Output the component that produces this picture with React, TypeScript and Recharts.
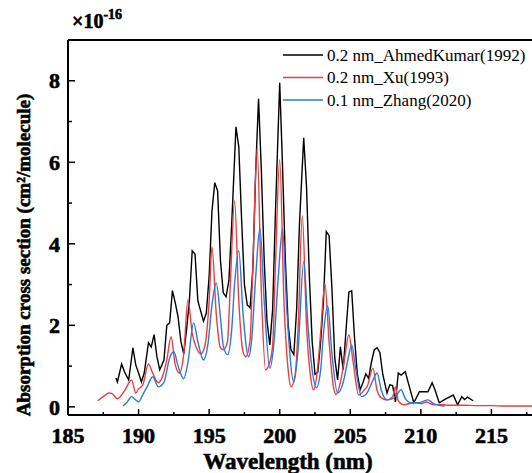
import React from "react";
import { LineChart, Line, XAxis, YAxis, ReferenceLine, Label } from "recharts";

// wavelengths (nm) and cross sections (x1e-16 cm^2/molecule)
const AK_WL = [
  188.4, 188.5, 188.8, 189.0, 189.3, 189.6, 189.8, 190.0, 190.2, 190.4, 190.7, 190.9, 191.1, 191.3,
  191.5, 191.8, 192.0, 192.2, 192.4, 192.6, 192.8, 193.0, 193.2, 193.4, 193.6, 193.8, 194.0, 194.2,
  194.4, 194.6, 194.8, 195.0, 195.2, 195.4, 195.6, 195.8, 196.0, 196.2, 196.4, 196.6, 196.9, 197.1,
  197.3, 197.5, 197.7, 197.9, 198.1, 198.3, 198.5, 198.7, 198.9, 199.1, 199.3, 199.5, 199.7, 200.0,
  200.2, 200.4, 200.6, 200.8, 201.0, 201.2, 201.4, 201.7, 201.9, 202.1, 202.3, 202.5, 202.7, 202.9,
  203.1, 203.3, 203.5, 203.7, 203.9, 204.1, 204.3, 204.5, 204.7, 204.9, 205.1, 205.3, 205.5, 205.7,
  205.9, 206.1, 206.3, 206.5, 206.7, 206.9, 207.1, 207.3, 207.6, 207.8, 208.0, 208.2, 208.4, 208.6,
  208.9, 209.1, 209.5, 209.9, 210.2, 210.5, 210.8, 211.0, 211.3, 211.8, 212.3, 212.6, 212.9, 213.1,
  213.3, 213.7,
];
const AK_VAL = [
  0.71, 0.61, 1.05, 0.86, 0.66, 1.45, 1.03, 0.83, 0.61, 0.83, 1.57, 1.47, 1.77, 1.23,
  0.91, 1.15, 2.0, 2.06, 2.85, 2.55, 2.2, 1.6, 1.3, 1.89, 2.6, 3.83, 3.75, 2.6,
  2.35, 2.1, 2.3, 3.2, 4.8, 5.5, 5.3, 3.6, 2.8, 2.7, 3.1, 4.5, 6.87, 6.38,
  4.6, 3.0, 2.5, 2.43, 3.4, 5.8, 7.56, 5.8, 3.6, 2.1, 1.52, 2.4, 4.8, 7.95,
  5.9, 3.6, 2.0, 1.4, 1.28, 2.4, 4.5, 6.6, 5.4, 3.2, 1.6, 0.8, 0.85, 1.6,
  2.6, 4.3, 4.2, 2.9, 1.2, 0.66, 1.47, 0.91, 1.89, 2.82, 2.85, 1.7, 0.8, 0.42,
  0.6, 0.81, 0.7, 1.1, 1.4, 1.45, 1.33, 0.8, 0.34, 0.54, 0.52, 0.12, 0.83, 0.78,
  0.86, 0.6, 0.1, 0.37, 0.37, 0.37, 0.59, 0.42, 0.1, 0.2, 0.29, 0.05, 0.25, 0.18,
  0.24, 0.15,
];

const XU_WL = [
  187.1, 187.5, 187.9, 188.1, 188.5, 189.0, 189.5, 189.8, 190.0, 190.3, 190.7, 191.0, 191.4, 191.8,
  192.0, 192.3, 192.6, 192.9, 193.2, 193.5, 193.8, 194.1, 194.4, 194.7, 195.0, 195.2, 195.5, 195.8,
  196.0, 196.3, 196.5, 196.8, 197.1, 197.4, 197.6, 197.9, 198.1, 198.4, 198.7, 199.0, 199.3, 199.5,
  199.7, 200.0, 200.3, 200.6, 200.8, 201.1, 201.3, 201.6, 201.9, 202.2, 202.4, 202.7, 202.9, 203.2,
  203.5, 203.8, 204.0, 204.3, 204.6, 204.9, 205.2, 205.6, 206.0, 206.2, 206.6, 206.9, 207.2, 207.6,
  208.0, 208.2, 208.4, 208.8, 209.5, 210.0, 210.4, 210.9, 211.5, 212.0, 213.0, 214.0, 215.0, 216.0,
  217.0, 218.0, 219.0, 220.0,
];
const XU_VAL = [
  0.15, 0.25, 0.34, 0.33, 0.2, 0.39, 0.66, 0.34, 0.44, 0.54, 1.05, 0.83, 0.59, 0.86,
  1.15, 1.72, 1.03, 0.83, 1.3, 2.63, 1.8, 1.45, 1.3, 1.5, 2.6, 3.93, 2.3, 1.45,
  1.4, 1.6, 3.0, 5.06, 2.6, 1.35, 1.23, 1.64, 3.5, 6.36, 2.8, 0.91, 1.1, 1.52,
  3.5, 6.06, 2.6, 0.9, 0.49, 0.8, 1.9, 4.69, 2.0, 0.7, 0.42, 1.0, 1.82, 3.02,
  1.6, 0.5, 0.3, 0.6, 1.2, 1.77, 1.1, 0.29, 0.42, 0.5, 0.95, 0.4, 0.22, 0.17,
  0.25, 0.49, 0.15, 0.05, 0.1, 0.08, 0.12, 0.05, 0.05, 0.04, 0.04, 0.03, 0.03, 0.02,
  0.02, 0.02, 0.02, 0.02,
];

const ZH_WL = [
  188.9, 189.2, 189.5, 189.7, 190.0, 190.3, 190.6, 191.0, 191.4, 191.8, 192.2, 192.5, 192.8, 193.2,
  193.5, 193.9, 194.2, 194.6, 194.9, 195.2, 195.5, 195.8, 196.0, 196.3, 196.6, 196.8, 197.1, 197.4,
  197.8, 198.0, 198.3, 198.6, 198.9, 199.3, 199.6, 199.9, 200.2, 200.5, 201.0, 201.3, 201.7, 202.0,
  202.3, 202.6, 202.9, 203.1, 203.4, 203.7, 204.1, 204.5, 204.8, 205.1, 205.4, 205.8, 206.2, 206.6,
  206.9, 207.2, 207.6, 208.0, 208.3, 208.6, 208.9, 209.3, 209.8, 210.2, 210.5, 210.9, 211.3, 211.7,
];
const ZH_VAL = [
  0.02, 0.12, 0.25, 0.2, 0.12, 0.3, 0.49, 0.74, 0.49, 0.6, 1.2, 1.35, 1.0, 0.69,
  1.1, 2.06, 1.6, 1.15, 1.5, 2.5, 3.04, 2.2, 1.5, 1.28, 1.9, 3.0, 3.83, 2.3,
  1.23, 1.6, 3.2, 4.39, 2.6, 0.95, 1.6, 3.2, 4.37, 2.4, 0.61, 1.4, 3.56, 2.0,
  0.9, 0.47, 0.9, 1.8, 2.48, 1.3, 0.34, 0.6, 1.1, 1.52, 0.9, 0.25, 0.35, 0.65,
  0.83, 0.4, 0.17, 0.2, 0.3, 0.42, 0.2, 0.1, 0.1, 0.14, 0.17, 0.08, 0.04, 0.02,
];

const X_TICKS = [185, 187.5, 190, 192.5, 195, 197.5, 200, 202.5, 205, 207.5, 210, 212.5, 215, 217.5];
const Y_TICKS = [0, 1, 2, 3, 4, 5, 6, 7, 8];

const SERIES = [
  { name: "0.2 nm_AhmedKumar(1992)", color: "#000000", wl: AK_WL, val: AK_VAL, type: "linear" },
  { name: "0.2 nm_Xu(1993)", color: "#f03c3c", wl: XU_WL, val: XU_VAL, type: "monotone" },
  { name: "0.1 nm_Zhang(2020)", color: "#2a78e0", wl: ZH_WL, val: ZH_VAL, type: "monotone" },
];

const FONT = "'Liberation Serif', 'Times New Roman', serif";
// the reference text is very heavy, so bold text gets a thin outline too
const BOLD = { fontFamily: FONT, fontWeight: 700, stroke: "#000", strokeWidth: 0.6 };
const PLOT_LEFT = 68;
const AXIS_Y = 415;

const toPoints = (wl: number[], val: number[]) => wl.map((w, i) => ({ wl: w, v: val[i] }));

const XTick = (props: any) => {
  const { x, payload } = props;
  const v = payload.value;
  const major = v % 5 === 0;
  return (
    <g>
      <line x1={x} x2={x} y1={AXIS_Y} y2={AXIS_Y - (major ? 6 : 3)} stroke="#000" strokeWidth={1.5} />
      {major && (
        <text x={x} y={AXIS_Y + 28} textAnchor="middle" fill="#000" style={{ ...BOLD, fontSize: 22 }}>
          {v}
        </text>
      )}
    </g>
  );
};

const YTick = (props: any) => {
  const { y, payload } = props;
  const v = payload.value;
  const major = v % 2 === 0;
  return (
    <g>
      <line x1={PLOT_LEFT} x2={PLOT_LEFT + (major ? 7 : 4)} y1={y} y2={y} stroke="#000" strokeWidth={1.5} />
      {major && (
        <text x={60} y={y} dy="0.35em" textAnchor="end" fill="#000" style={{ ...BOLD, fontSize: 22 }}>
          {v}
        </text>
      )}
    </g>
  );
};

export default function App() {
  return (
    <div style={{ position: "absolute", left: 0, top: 0, width: 532, height: 473, overflow: "hidden", background: "#fff" }}>
      <LineChart width={572} height={473} margin={{ top: 40, right: 10, bottom: 0, left: 0 }}>
        <XAxis
          type="number"
          dataKey="wl"
          domain={[185, 220]}
          ticks={X_TICKS}
          interval={0}
          allowDataOverflow
          height={58}
          tickSize={0}
          tickLine={false}
          axisLine={{ stroke: "#000", strokeWidth: 2 }}
          tick={<XTick />}
        >
          <Label
            content={() => (
              <text x={288} y={469} textAnchor="middle" fill="#000" style={{ ...BOLD, fontSize: 23 }}>
                Wavelength (nm)
              </text>
            )}
          />
        </XAxis>
        <YAxis
          type="number"
          domain={[-0.2, 9]}
          ticks={Y_TICKS}
          interval={0}
          allowDataOverflow
          width={68}
          tickSize={0}
          tickLine={false}
          axisLine={{ stroke: "#000", strokeWidth: 2 }}
          tick={<YTick />}
        >
          <Label
            content={() => (
              <text
                x={30}
                y={255}
                transform="rotate(-90 30 255)"
                textAnchor="middle"
                fill="#000"
                style={{ ...BOLD, fontSize: 19 }}
              >
                Absorption cross section (cm²/molecule)
              </text>
            )}
          />
        </YAxis>
        <ReferenceLine y={9} stroke="#000" strokeWidth={2} ifOverflow="visible" />
        {SERIES.map((s) => (
          <Line
            key={s.name}
            data={toPoints(s.wl, s.val)}
            dataKey="v"
            name={s.name}
            type={s.type as any}
            stroke={s.color}
            strokeWidth={1.4}
            dot={false}
            activeDot={false}
            isAnimationActive={false}
          />
        ))}
      </LineChart>
      <svg width={532} height={473} style={{ position: "absolute", left: 0, top: 0, pointerEvents: "none" }}>
        <text x={72} y={28} fill="#000" style={{ ...BOLD, fontSize: 20 }}>
          ×10
          <tspan dy={-9} style={{ fontSize: 14 }}>
            -16
          </tspan>
        </text>
        {SERIES.map((s, i) => (
          <g key={s.name}>
            <line x1={283} x2={323} y1={55 + i * 22.5} y2={55 + i * 22.5} stroke={s.color} strokeWidth={1.4} />
            <text x={327} y={55 + i * 22.5} dy="0.35em" fill="#000" style={{ fontFamily: FONT, fontSize: 17 }}>
              {s.name}
            </text>
          </g>
        ))}
      </svg>
    </div>
  );
}
